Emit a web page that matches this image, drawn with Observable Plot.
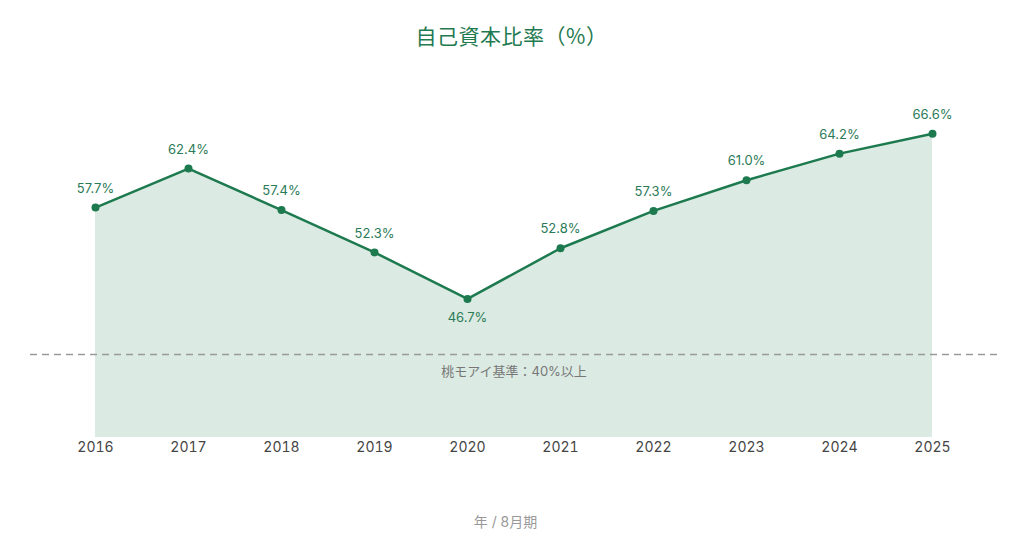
<!DOCTYPE html>
<html>
<head>
<meta charset="utf-8">
<script src="https://cdn.jsdelivr.net/npm/d3@7"></script>
<script src="https://cdn.jsdelivr.net/npm/@observablehq/plot@0.6"></script>
<style>
  body { margin: 0; background: #fff; font-family: Inter, "Noto Sans CJK JP", sans-serif; }
  #wrap { width: 1011px; }
  .title { height: 70px; line-height: 70px; text-align: center; font-size: 21px; color: #1f7a50; font-family: "Noto Sans CJK JP", sans-serif; letter-spacing: 0.5px; padding-left: 12px; }
  .caption { text-align: center; font-size: 14px; color: #999; margin-top: 41px; font-family: Inter, "Noto Sans CJK JP", sans-serif; }
</style>
</head>
<body>
<div id="wrap">
  <div class="title">自己資本比率（%）</div>
  <div id="chart"></div>
  <div class="caption">年 / 8月期</div>
</div>
<script>
const years = [2016, 2017, 2018, 2019, 2020, 2021, 2022, 2023, 2024, 2025];
const ratio = [57.7, 62.4, 57.4, 52.3, 46.7, 52.8, 57.3, 61.0, 64.2, 66.6];
const labelPos = ["top", "top", "top", "top", "bottom", "top", "top", "top", "top", "top"];
const threshold = 40;
const thresholdLabel = "桃モアイ基準：40%以上";
const yDomain = [30, 70];

const data = years.map((y, i) => ({year: y, value: ratio[i], pos: labelPos[i]}));
const lineColor = "#1d7a4f";

const chart = Plot.plot({
  width: 1011,
  height: 400,
  marginTop: 35,
  marginBottom: 33,
  marginLeft: 95,
  marginRight: 79,
  style: {fontFamily: "Inter, 'Noto Sans CJK JP', sans-serif", fontSize: "14px", color: "#444"},
  x: {domain: [years[0], years[years.length - 1]], ticks: years, tickFormat: d => String(d), tickSize: 0, tickPadding: 5, label: null},
  y: {domain: yDomain, axis: null},
  marks: [
    Plot.areaY(data, {x: "year", y1: yDomain[0], y2: "value", fill: "#dbeae2", curve: "linear"}),
    Plot.ruleY([threshold], {stroke: "#9a9a9a", strokeWidth: 1.5, strokeDasharray: "7,5", insetLeft: -65, insetRight: -65}),
    Plot.text([{y: threshold, t: thresholdLabel}], {y: "y", text: "t", frameAnchor: "middle", dy: 17, fill: "#777", fontSize: 13, fontFamily: "Inter, 'Noto Sans CJK JP', sans-serif"}),
    Plot.line(data, {x: "year", y: "value", stroke: lineColor, strokeWidth: 2.5}),
    Plot.dot(data, {x: "year", y: "value", r: 4, fill: lineColor}),
    Plot.text(data.filter(d => d.pos === "top"), {x: "year", y: "value", text: d => d.value.toFixed(1) + "%", dy: -19, fill: "#2b7a57", fontSize: 13}),
    Plot.text(data.filter(d => d.pos === "bottom"), {x: "year", y: "value", text: d => d.value.toFixed(1) + "%", dy: 19, fill: "#2b7a57", fontSize: 13})
  ]
});
document.getElementById("chart").appendChild(chart);
</script>
</body>
</html>
